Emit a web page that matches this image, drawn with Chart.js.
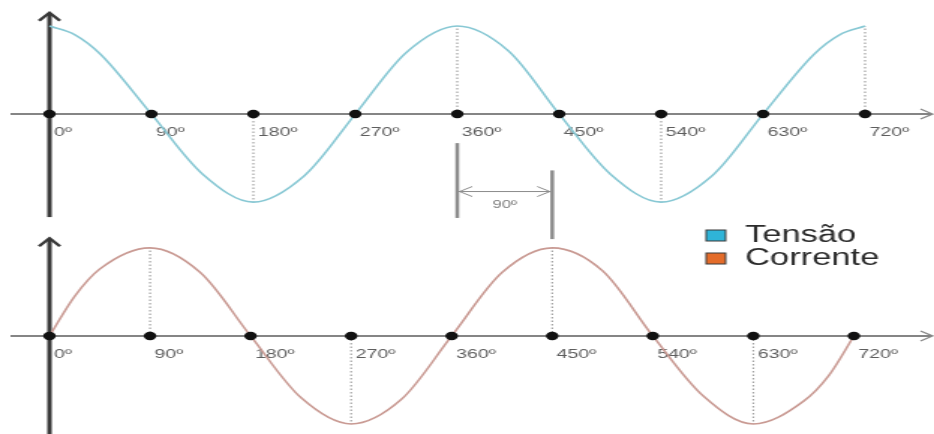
<!DOCTYPE html>
<html lang="pt">
<head>
<meta charset="utf-8">
<title>Tensão e corrente defasadas de 90º</title>
<script src="https://cdn.jsdelivr.net/npm/chart.js@4.4.1/dist/chart.umd.min.js"></script>
<style>
  html, body { margin: 0; padding: 0; background: #fff; overflow: hidden; }
  #wave { display: block; }
</style>
</head>
<body>
<!-- the original drawing is stretched sideways, so the canvas is drawn narrow and shown wide -->
<canvas id="wave" width="623" height="434" style="width:934px;height:434px"></canvas>
<script>
'use strict';

// Angles (degrees) sampled along the curves, and the labelled marks
const ANGLES = [0, 22.5, 45, 90, 135, 180, 225, 270, 315, 360, 405, 450, 495, 540, 585, 630, 675, 697.5, 720];
const TICKS = [0, 90, 180, 270, 360, 450, 540, 630, 720];

// Normalised values
const TENSAO = [1, 0.9, 0.68, 0, -0.68, -1, -0.7, 0, 0.7, 1, 0.72, 0, -0.68, -1, -0.7, 0, 0.68, 0.9, 1];
const CORRENTE = [0, 0.45, 0.76, 1, 0.72, 0, -0.7, -1, -0.72, 0, 0.72, 1, 0.74, 0, -0.68, -1, -0.74, -0.45, 0];

const SERIES = ['Tensão', 'Corrente'];
const PHASE = 90;

const FONT = "'Liberation Sans', Arial, sans-serif";
const LINE_COLORS = ['#88c8d4', '#c99a93'];
const BOX_COLORS = ['#2fb4d8', '#e46c2a'];

/** Which scales belong to which panel, and how far the vertical axis reaches. */
const PANELS = [
  { x: 'x', y: 'y', series: TENSAO, axisTop: 1.15, axisBottom: -1.17 },
  { x: 'x2', y: 'y2', series: CORRENTE, axisTop: 1.11, axisBottom: -1.12 },
];

const points = (values) => ANGLES.map((a, i) => ({ x: a, y: values[i] }));
const marks = () => TICKS.map(t => ({ x: t, y: 0 }));

const line = (ctx, x1, y1, x2, y2) => {
  ctx.beginPath();
  ctx.moveTo(x1, y1);
  ctx.lineTo(x2, y2);
  ctx.stroke();
};

/**
 * Axes with arrows, dotted drop lines, the 90º marker and the legend.
 */
const decor = {
  id: 'decor',

  beforeDatasetsDraw(chart) {
    const { ctx, scales, width } = chart;
    PANELS.forEach(p => {
      const sx = scales[p.x], sy = scales[p.y];
      const x0 = sx.getPixelForValue(0);
      const y0 = sy.getPixelForValue(0);
      ctx.save();

      // dotted lines from the axis to each peak
      ctx.setLineDash([1.5, 2]);
      ctx.strokeStyle = '#a0a0a0';
      ctx.lineWidth = 1.2;
      TICKS.forEach(t => {
        const v = p.series[ANGLES.indexOf(t)];
        if (t === 0 || Math.abs(v) < 1) return;
        const px = sx.getPixelForValue(t);
        line(ctx, px, y0, px, sy.getPixelForValue(v));
      });
      ctx.setLineDash([]);

      // horizontal axis
      ctx.strokeStyle = '#858585';
      ctx.lineWidth = 2;
      line(ctx, 7, y0, width - 2, y0);
      ctx.lineWidth = 1.2;
      ctx.beginPath();
      ctx.moveTo(width - 9, y0 - 5);
      ctx.lineTo(width - 1, y0);
      ctx.lineTo(width - 9, y0 + 5);
      ctx.stroke();

      // vertical axis
      const yt = sy.getPixelForValue(p.axisTop);
      const yb = sy.getPixelForValue(p.axisBottom);
      ctx.strokeStyle = '#383838';
      ctx.lineWidth = 3;
      line(ctx, x0, yt + 1, x0, yb);
      ctx.lineWidth = 2.4;
      ctx.beginPath();
      ctx.moveTo(x0 - 7, yt + 8);
      ctx.lineTo(x0, yt);
      ctx.lineTo(x0 + 7, yt + 8);
      ctx.stroke();
      ctx.restore();
    });
  },

  afterDatasetsDraw(chart) {
    const { ctx, scales } = chart;
    ctx.save();

    // phase marker between the top 360º peak and the bottom 450º peak
    const xa = scales.x.getPixelForValue(360);
    const xb = scales.x2.getPixelForValue(360 + PHASE);
    ctx.strokeStyle = '#8c8c8c';
    ctx.lineWidth = 2.5;
    line(ctx, xa, scales.y.getPixelForValue(-0.33), xa, scales.y.getPixelForValue(-1.18));
    line(ctx, xb, scales.y2.getPixelForValue(1.88), xb, scales.y2.getPixelForValue(1.1));

    const ya = scales.y.getPixelForValue(-0.88);
    ctx.lineWidth = 1;
    line(ctx, xa + 1, ya, xb - 1, ya);
    ctx.beginPath();
    ctx.moveTo(xa + 10, ya - 5);
    ctx.lineTo(xa + 1.5, ya);
    ctx.lineTo(xa + 10, ya + 5);
    ctx.moveTo(xb - 10, ya - 5);
    ctx.lineTo(xb - 1.5, ya);
    ctx.lineTo(xb - 10, ya + 5);
    ctx.stroke();

    ctx.fillStyle = '#777';
    ctx.font = `11px ${FONT}`;
    ctx.textAlign = 'center';
    ctx.textBaseline = 'middle';
    ctx.fillText(`${PHASE}º`, (xa + xb) / 2, scales.y.getPixelForValue(-1.03));

    // legend
    ctx.font = `23px ${FONT}`;
    ctx.textAlign = 'left';
    ctx.textBaseline = 'alphabetic';
    ctx.lineWidth = 1;
    SERIES.forEach((label, i) => {
      const cy = 235.5 + i * 23;
      ctx.fillStyle = BOX_COLORS[i];
      ctx.fillRect(471, cy - 5.5, 13, 11);
      ctx.strokeStyle = '#3a3a3a';
      ctx.strokeRect(471, cy - 5.5, 13, 11);
      ctx.fillStyle = '#2b2b2b';
      ctx.fillText(label, 497, cy + 6.5);
    });
    ctx.restore();
  },
};

const tickAxis = (yId, max) => ({
  type: 'linear',
  axis: 'x',
  min: 0,
  max,
  position: { [yId]: 0 },
  grid: { display: false },
  border: { display: false },
  afterBuildTicks: (scale) => { scale.ticks = TICKS.map(value => ({ value })); },
  ticks: {
    autoSkip: false,
    maxRotation: 0,
    align: 'start',
    labelOffset: 3,
    padding: 3,
    color: '#5e5e5e',
    font: { family: FONT, size: 13 },
    callback: (v) => `${v}º`,
  },
});

const curve = (label, values, xId, yId, color) => ({
  label,
  data: points(values),
  xAxisID: xId, yAxisID: yId,
  borderColor: color,
  borderWidth: 1.6,
  cubicInterpolationMode: 'monotone',
  pointRadius: 0,
  order: 1,
  clip: false,
});

const dots = (label, xId, yId) => ({
  label,
  data: marks(),
  xAxisID: xId, yAxisID: yId,
  showLine: false,
  pointRadius: 4.2,
  pointBackgroundColor: '#111',
  pointBorderWidth: 0,
  order: 0,
  clip: false,
});

new Chart(document.getElementById('wave'), {
  type: 'line',
  data: {
    datasets: [
      dots('marcas-tensao', 'x', 'y'),
      dots('marcas-corrente', 'x2', 'y2'),
      curve(SERIES[0], TENSAO, 'x', 'y', LINE_COLORS[0]),
      curve(SERIES[1], CORRENTE, 'x2', 'y2', LINE_COLORS[1]),
    ],
  },
  options: {
    responsive: false,
    devicePixelRatio: 1,
    animation: false,
    events: [],
    layout: { padding: { left: 33, right: 46, top: 26, bottom: 10 } },
    scales: {
      x: tickAxis('y', 720),
      x2: tickAxis('y2', 730),
      y: { type: 'linear', axis: 'y', display: false, min: -3.52, max: 1 },
      y2: { type: 'linear', axis: 'y', display: false, min: -1, max: 3.52 },
    },
    plugins: {
      legend: { display: false },
      tooltip: { enabled: false },
    },
  },
  plugins: [decor],
});
</script>
</body>
</html>
